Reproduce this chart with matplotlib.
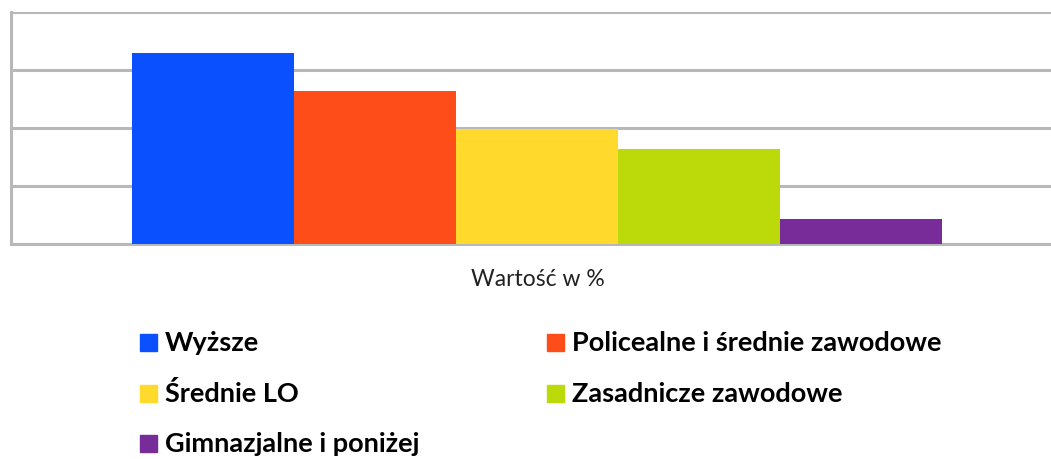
import matplotlib.pyplot as plt
from matplotlib.patches import Rectangle

# poziom wykształcenia -> wartość w %
kategorie = ["Wyższe", "Policealne i średnie zawodowe", "Średnie LO",
             "Zasadnicze zawodowe", "Gimnazjalne i poniżej"]
wartosci = [32.9, 26.4, 19.8, 16.4, 4.3]
kolory = ["#0b50ff", "#ff4d1a", "#ffd92b", "#bcd90a", "#772c9a"]

W, H = 1051, 460
fig = plt.figure(figsize=(W / 100, H / 100), dpi=100)
ax = fig.add_axes([11 / W, (H - 245) / H, 1052 / W, 232 / H])

x = list(range(len(wartosci)))
ax.bar(x, wartosci, width=1.0, color=kolory, zorder=3)
m = 0.747
ax.set_xlim(-0.5 - m, len(x) - 0.5 + m)
ax.set_ylim(0, 40)
ax.set_yticks([0, 10, 20, 30, 40])
ax.set_xticks([])
ax.tick_params(left=False, labelleft=False)
ax.grid(axis="y", color="#b8b8b8", linewidth=2.2, zorder=0)
for s in ["top", "right"]:
    ax.spines[s].set_visible(False)
for s in ["left", "bottom"]:
    ax.spines[s].set_color("#b8b8b8")
    ax.spines[s].set_linewidth(2.2)

fig.text(538 / W, 1 - 280 / H, "Wartość w %", ha="center", va="center",
         fontsize=16.5, family="Lato", color="#222222")

# legenda: wiersze po dwie pozycje
pozycje = [(140, 343), (547, 343), (140, 394), (547, 394), (140, 444)]
for (px, py), nazwa, kol in zip(pozycje, kategorie, kolory):
    fig.add_artist(Rectangle((px / W, 1 - (py + 8.5) / H), 17 / W, 17 / H,
                             color=kol, transform=fig.transFigure))
    fig.text((px + 25) / W, 1 - py / H, nazwa, ha="left", va="center",
             fontsize=19.5, fontweight="bold", family="Lato", color="black")

fig.savefig("out.png", dpi=100)
